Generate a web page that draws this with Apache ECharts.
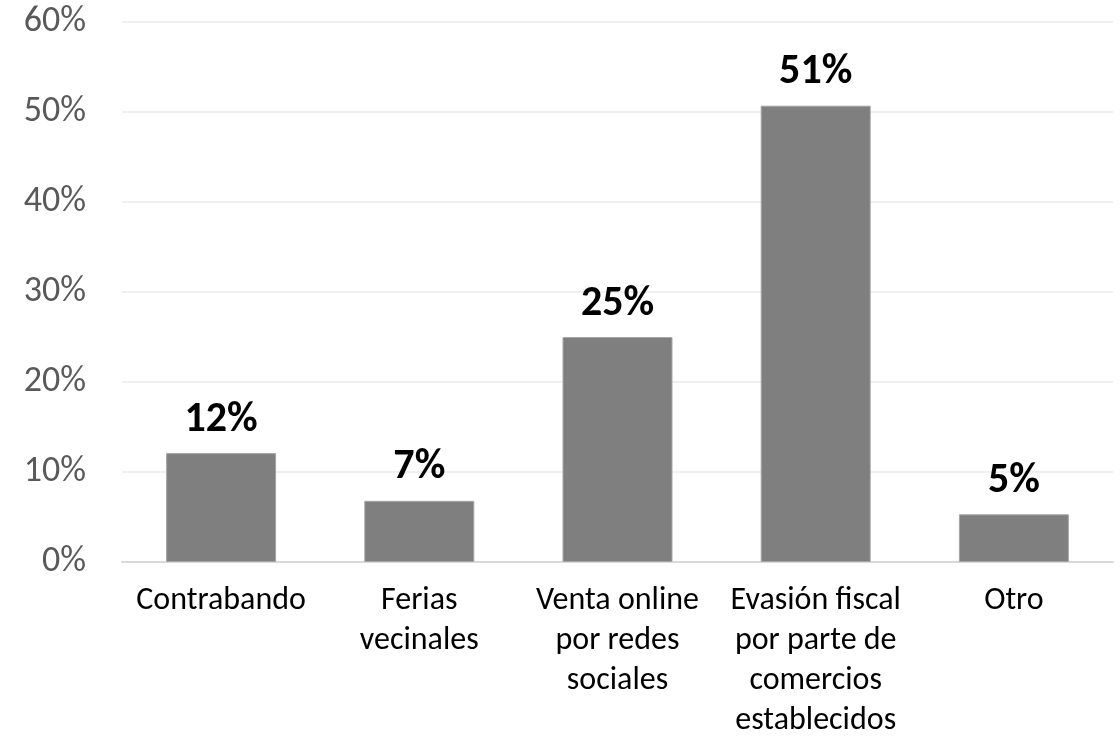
<!DOCTYPE html>
<html>
<head>
<meta charset="utf-8">
<script src="https://cdn.jsdelivr.net/npm/echarts@6/dist/echarts.min.js"></script>
<style>
  html, body { margin: 0; padding: 0; background: #fff; overflow: hidden; }
  #chart { width: 1120px; height: 741px; }
</style>
</head>
<body>
<div id="chart"></div>
<script>
// Categories (line breaks as shown under each bar)
const categories = [
  'Contrabando',
  'Ferias\nvecinales',
  'Venta online\npor redes\nsociales',
  'Evasión fiscal\npor parte de\ncomercios\nestablecidos',
  'Otro'
];
// Share of responses, in percent
const values = [12.1, 6.8, 25.0, 50.7, 5.3];
// Value axis ticks
const yTicks = [0, 10, 20, 30, 40, 50, 60];

const FONT = 'Carlito, Calibri, Lato, sans-serif';

const chart = echarts.init(document.getElementById('chart'), null, { renderer: 'canvas' });
chart.setOption({
  animation: false,
  backgroundColor: '#ffffff',
  grid: { left: 122, right: 7, top: 22, height: 547, containLabel: false },
  xAxis: {
    type: 'category',
    data: categories,
    axisLine: { show: true, lineStyle: { color: '#d9d9d9', width: 2 } },
    axisTick: { show: false },
    axisLabel: {
      interval: 0,
      margin: 19,
      color: '#000000',
      fontFamily: FONT,
      fontSize: 32,
      lineHeight: 40
    }
  },
  yAxis: {
    type: 'value',
    min: yTicks[0],
    max: yTicks[yTicks.length - 1],
    interval: 10,
    axisLine: { show: false },
    axisTick: { show: false },
    splitLine: { lineStyle: { color: '#f0f0f0', width: 2 } },
    axisLabel: {
      margin: 36,
      color: '#595959',
      fontFamily: FONT,
      fontSize: 36,
      formatter: v => v + '%'
    }
  },
  series: [{
    type: 'bar',
    data: values,
    barWidth: 110,
    itemStyle: { color: '#7f7f7f', borderColor: '#a6a6a6', borderWidth: 1 },
    label: {
      show: true,
      position: 'top',
      distance: 12,
      color: '#000000',
      fontFamily: FONT,
      fontWeight: 'bold',
      fontSize: 42,
      formatter: p => Math.round(p.value) + '%'
    }
  }]
});
</script>
</body>
</html>
